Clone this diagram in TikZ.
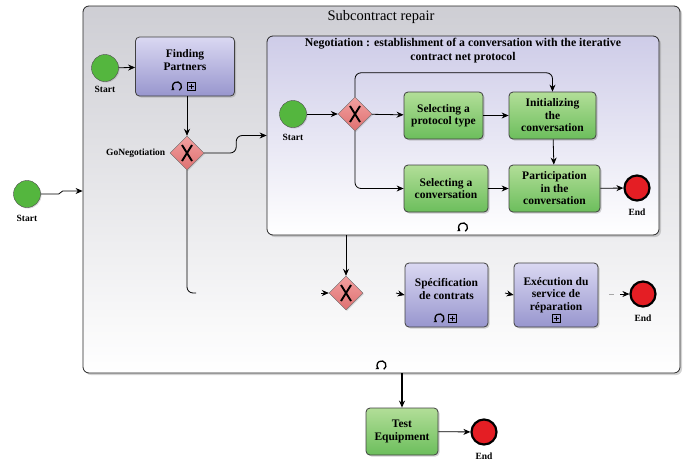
\documentclass[tikz,border=0pt]{standalone}
\usepackage{fontspec}
\setmainfont{Liberation Serif}
\usetikzlibrary{shapes.geometric,arrows.meta,shadows}

\definecolor{purpletop}{RGB}{218,216,242}
\definecolor{purplebot}{RGB}{152,150,206}
\definecolor{greentop}{RGB}{178,222,152}
\definecolor{greenbot}{RGB}{108,190,92}
\definecolor{gwtop}{RGB}{242,160,160}
\definecolor{gwbot}{RGB}{222,112,112}
\definecolor{startgreen}{RGB}{84,182,62}
\definecolor{endred}{RGB}{228,30,36}
\definecolor{repairtop}{RGB}{206,206,212}
\definecolor{negotop}{RGB}{206,204,232}

\tikzset{
  flow/.style={-{Stealth[length=7pt,width=6pt]},line width=0.8pt},
  task/.style={draw=black!75,line width=0.8pt,rounded corners=4pt,align=center,
    font=\bfseries\fontsize{11.5}{12.5}\selectfont,
    drop shadow={shadow xshift=1.5pt,shadow yshift=-1.5pt,opacity=0.35}},
  purpletask/.style={task,top color=purpletop,bottom color=purplebot},
  greentask/.style={task,top color=greentop,bottom color=greenbot},
  container/.style={draw=black!85,line width=0.8pt,rounded corners=6pt,
    drop shadow={shadow xshift=2pt,shadow yshift=-2pt,opacity=0.35}},
  gateway/.style={diamond,draw=black!60,top color=gwtop,bottom color=gwbot,
    minimum width=34,minimum height=34,inner sep=0pt,
    drop shadow={shadow xshift=1pt,shadow yshift=-1pt,opacity=0.3},
    path picture={\draw[black,line width=1.9pt]
      ([shift={(-5,-8)}]path picture bounding box.center) -- ([shift={(5,8)}]path picture bounding box.center)
      ([shift={(5,-8)}]path picture bounding box.center) -- ([shift={(-5,8)}]path picture bounding box.center);}},
  startev/.style={circle,draw=black!70,fill=startgreen,minimum size=27,inner sep=0pt,
    drop shadow={shadow xshift=1pt,shadow yshift=-1pt,opacity=0.3}},
  endev/.style={circle,draw=black,line width=2.2pt,fill=endred,minimum size=25,inner sep=0pt},
  evlabel/.style={font=\bfseries\fontsize{9.5}{10}\selectfont},
  loopmark/.pic={\draw[line width=1.3pt,-{Stealth[length=3pt,width=4pt]}]
    (60:4.5) arc[start angle=60,end angle=-235,radius=4.5];},
  plusmark/.pic={\draw[line width=0.8pt] (-4,-4) rectangle (4,4);
    \draw[line width=0.8pt] (-2.5,0) -- (2.5,0) (0,-2.5) -- (0,2.5);},
}

\begin{document}
\begin{tikzpicture}[x=1pt,y=-1pt]
  \useasboundingbox (0,0) rectangle (685,464);

  % containers
  \node[container,top color=repairtop,bottom color=white,minimum width=597,minimum height=367] (repair) at (381.5,189.5) {};
  \node[font=\fontsize{14.5}{16}\selectfont] (repairtitle) at (381,17) {Subcontract repair};
  \node[container,top color=negotop,bottom color=white,minimum width=392,minimum height=199] (negotiation) at (463,135.5) {};
  \node[align=center,font=\bfseries\fontsize{11.8}{14}\selectfont] (negotitle) at (463,51)
    {Negotiation : establishment of a conversation with the iterative\\contract net protocol};

  % events and tasks
  \node[startev,label={[evlabel,label distance=4pt]below:Start}] (start0) at (27,194) {};
  \node[startev,label={[evlabel,label distance=1pt]below:Start}] (start1) at (105,68) {};
  \node[purpletask,minimum width=99,minimum height=59] (finding) at (185,66.5) {Finding\\Partners\\\mbox{}};
  \node[gateway,label={[evlabel,label distance=1pt]left:GoNegotiation}] (gw1) at (187,153) {};

  \node[startev,label={[evlabel,label distance=3pt]below:Start}] (start2) at (293,114) {};
  \node[gateway] (gw2) at (355,114) {};
  \node[greentask,minimum width=79,minimum height=47] (protocol) at (443.5,115.5) {Selecting a\\protocol type};
  \node[greentask,minimum width=87,minimum height=47] (init) at (552.5,115.5) {Initializing\\the\\conversation};
  \node[greentask,minimum width=84,minimum height=47] (selconv) at (446,188.5) {Selecting a\\conversation};
  \node[greentask,minimum width=91,minimum height=47] (partic) at (554.5,188.5) {Participation\\in the\\conversation};
  \node[endev,label={[evlabel,label distance=4pt]below:End}] (end1) at (637,188) {};

  \node[gateway] (gw3) at (346,293) {};
  \node[purpletask,minimum width=83,minimum height=64] (spec) at (446.5,295) {Spécification\\de contrats\\\mbox{}};
  \node[purpletask,minimum width=84,minimum height=64] (exec) at (556,295) {Exécution du\\service de\\réparation};
  \node[endev,label={[evlabel,label distance=4pt]below:End}] (end2) at (643,294) {};

  \node[greentask,minimum width=72,minimum height=47] (test) at (402,431.5) {Test\\Equipment};
  \node[endev,label={[evlabel,label distance=4pt]below:End}] (end3) at (484,432) {};

  % markers
  \pic at ([shift={(-8,-10)}]finding.south) {loopmark};
  \pic at ([shift={(6,-10)}]finding.south) {plusmark};
  \pic at ([shift={(-7,-9)}]spec.south) {loopmark};
  \pic at ([shift={(6,-9)}]spec.south) {plusmark};
  \pic at ([shift={(0,-9)}]exec.south) {plusmark};
  \pic at ([shift={(0,-8)}]negotiation.south) {loopmark};
  \pic at ([shift={(0,-8)}]repair.south) {loopmark};

  % free ends
  \coordinate (gw1turn) at (196,293);
  \coordinate (gw3in) at (321,293);
  \coordinate (specin) at (396,293);
  \coordinate (execin) at (505,293);
  \coordinate (end2in) at (609,294);

  % connectors
  \draw[flow] (start0.east) -- ++(18,0) -- ++(4,-3) -- (repair.west |- 0,191);
  \draw[flow] (start1) -- (finding);
  \draw[flow] (finding.south -| gw1) -- (gw1.north);
  \draw[flow,rounded corners=6pt] (gw1.east) -- ++(32,0) |- (negotiation.west);
  \draw[line width=0.8pt,rounded corners=6pt] (gw1.south) |- (gw1turn);
  \draw[flow] (gw3in) -- (gw3.west);
  \draw[flow] (start2) -- (gw2);
  \draw[flow] (gw2) -- (protocol);
  \draw[flow] (protocol) -- (init);
  \draw[flow,rounded corners=6pt] (gw2.north) -- ++(0,-24) -| (init.north);
  \draw[flow,rounded corners=6pt] (gw2.south) |- (selconv.west);
  \draw[flow] (init) -- (partic);
  \draw[flow] (selconv) -- (partic);
  \draw[flow] (partic) -- (end1);
  \draw[flow] (gw3 |- negotiation.south) -- (gw3.north);
  \draw[flow] (specin) -- (spec.west);
  \draw[flow] (execin) -- (exec.west);
  \draw[line width=0.8pt,black!35] (end2in) -- ++(5,0);
  \draw[flow] ([xshift=11pt]end2in) -- (end2.west);
  \draw[flow,line width=1.4pt] (test |- repair.south) -- (test.north);
  \draw[flow] (test) -- (end3);
\end{tikzpicture}
\end{document}
